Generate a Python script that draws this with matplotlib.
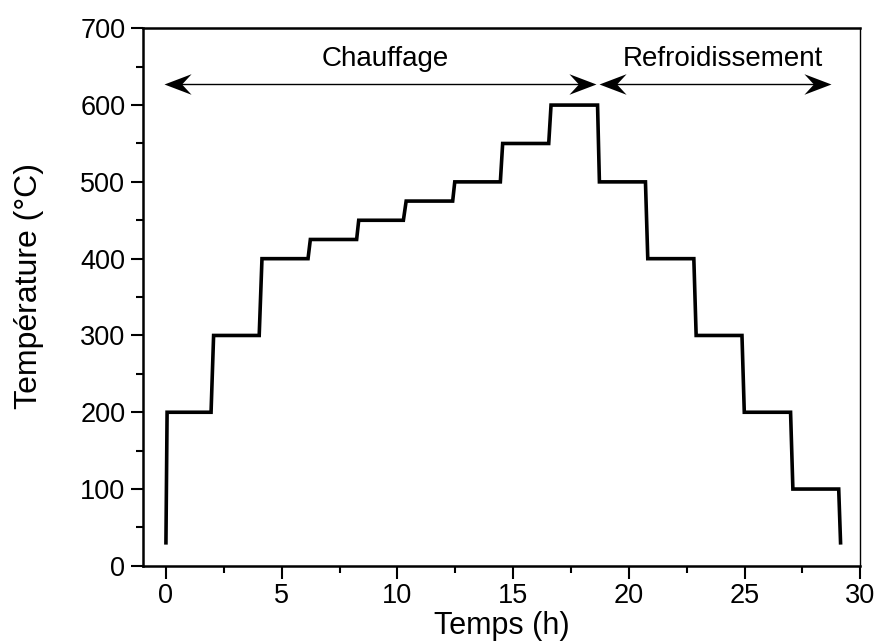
import numpy as np
import matplotlib
matplotlib.use("Agg")
from matplotlib import pyplot as plt
from matplotlib.path import Path
from matplotlib.markers import MarkerStyle

# profil de température (temps en h, température en °C)
temps = [0, 0.05, 1.95, 2.06, 4.03, 4.15, 6.14, 6.24, 8.24, 8.33, 10.26, 10.38,
         12.39, 12.48, 14.45, 14.55, 16.54, 16.64, 18.65, 18.73, 20.72, 20.82,
         22.81, 22.91, 24.89, 24.99, 26.99, 27.09, 29.07, 29.15]
temperature = [30, 200, 200, 300, 300, 400, 400, 425, 425, 450, 450, 475,
               475, 500, 500, 550, 550, 600, 600, 500, 500, 400,
               400, 300, 300, 200, 200, 100, 100, 30]

phases = ["Chauffage", "Refroidissement"]
phase_debut = [-0.1, 18.7]
phase_fin = [18.6, 28.75]
phase_centre_texte = [9.46, 24.06]
y_fleche = 628
y_texte = 660

plt.rcParams['font.family'] = ['Liberation Sans', 'DejaVu Sans']


def stealth(direction):
    # pointe de flèche "stealth" avec la pointe à l'origine
    verts = np.array([[0, 0], [-1, 0.38], [-0.65, 0], [-1, -0.38], [0, 0]], dtype=float)
    verts[:, 0] *= direction
    codes = [Path.MOVETO, Path.LINETO, Path.LINETO, Path.LINETO, Path.CLOSEPOLY]
    return MarkerStyle(Path(verts, codes))


fig = plt.figure(figsize=(8.76, 6.43), dpi=100)
ax = fig.add_axes([0.163, 0.120, 0.819, 0.836])

ax.plot(temps, temperature, color='black', lw=2.6, solid_joinstyle='miter')

for nom, x0, x1, xc in zip(phases, phase_debut, phase_fin, phase_centre_texte):
    ax.plot([x0 + 0.5, x1 - 0.5], [y_fleche, y_fleche], color='black', lw=1)
    ax.plot([x0], [y_fleche], marker=stealth(-1), ms=39, color='black', mew=0)
    ax.plot([x1], [y_fleche], marker=stealth(1), ms=39, color='black', mew=0)
    ax.text(xc, y_texte, nom, ha='center', va='center', fontsize=20)

ax.set_xlim(-1, 30)
ax.set_ylim(0, 700)
ax.set_xticks([0, 5, 10, 15, 20, 25, 30])
ax.set_xticks(np.arange(2.5, 30, 5), minor=True)
ax.set_yticks(np.arange(0, 701, 100))
ax.set_yticks(np.arange(50, 700, 100), minor=True)

ax.tick_params(which='major', direction='out', length=9, width=1.5, labelsize=19.5)
ax.tick_params(which='minor', direction='out', length=5, width=1.5)
for s in ['left', 'bottom', 'top']:
    ax.spines[s].set_linewidth(1.8)
ax.spines['right'].set_linewidth(1)

ax.set_xlabel("Temps (h)", fontsize=22, labelpad=1.5)
ax.set_ylabel("Température (°C)", fontsize=23)
ax.yaxis.set_label_coords(-0.137, 0.52)

fig.savefig("out.png", dpi=100)
